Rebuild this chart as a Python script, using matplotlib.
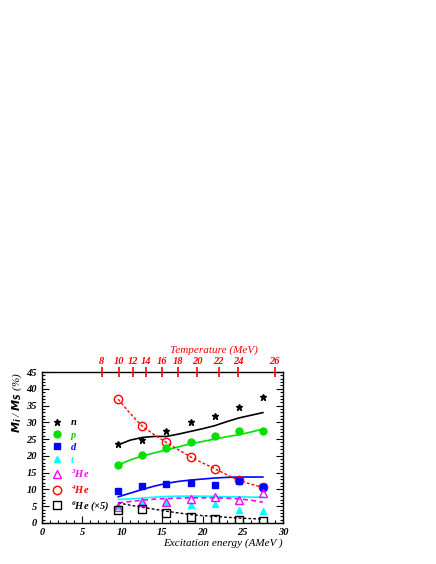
#this file draws the fragment multiplicity fractions vs excitation energy
import matplotlib.pyplot as plt
from matplotlib.lines import Line2D
from matplotlib.ticker import MultipleLocator

plt.rcParams['font.family'] = ['Liberation Serif', 'DejaVu Serif']
plt.rcParams['font.style'] = 'italic'
plt.rcParams['font.weight'] = 'bold'
plt.rcParams['mathtext.default'] = 'regular'

# data points (excitation energy, AMeV)
e_pts = [9.5, 12.5, 15.5, 18.5, 21.5, 24.5, 27.5]
n_pts = [23.6, 24.8, 27.4, 30.2, 32.0, 34.7, 37.7]
p_pts = [17.3, 20.3, 22.4, 24.2, 25.9, 27.5, 27.5]
d_pts = [9.6, 10.9, 11.6, 11.8, 11.3, 12.5, 10.7]
t_pts = [5.1, 6.6, 6.3, 5.5, 5.6, 4.0, 3.5]
he3_pts = [4.8, 6.3, 6.3, 7.2, 7.6, 7.0, 8.8]
he4_pts = [36.9, 28.8, 24.0, 19.7, 16.2, 12.7, 10.6]
he6_pts = [4.0, 4.2, 3.0, 1.7, 1.3, 0.8, 0.6]

# model curves
e_mod = [9.5, 11.0, 12.5, 14.0, 15.5, 17.0, 18.5, 20.0, 21.5, 23.0, 24.5, 26.0, 27.5]
n_mod = [23.3, 24.7, 25.5, 25.8, 25.8, 26.5, 27.3, 28.1, 29.0, 30.2, 31.3, 32.1, 32.9]
p_mod = [17.3, 18.8, 20.0, 20.9, 21.8, 22.7, 23.6, 24.3, 25.0, 25.7, 26.3, 27.1, 28.0]
d_mod = [7.8, 8.9, 10.0, 11.0, 11.8, 12.4, 12.8, 13.1, 13.4, 13.6, 13.7, 13.7, 13.7]
t_mod = [7.0, 7.2, 7.4, 7.7, 7.9, 8.0, 8.0, 8.0, 7.9, 7.8, 7.8, 7.7, 7.7]
he3_mod = [6.0, 6.4, 6.8, 7.1, 7.3, 7.4, 7.5, 7.5, 7.5, 7.4, 7.2, 6.8, 6.2]
he4_mod = [36.9, 32.6, 28.8, 26.3, 24.0, 21.8, 19.7, 17.9, 16.2, 14.4, 12.7, 11.6, 10.6]
he6_mod = [6.0, 5.3, 4.7, 4.1, 3.5, 3.0, 2.5, 2.2, 2.0, 1.7, 1.5, 1.3, 1.2]

# temperature scale on top (positions in excitation energy)
temp_pos = [7.43, 9.58, 11.33, 12.9, 14.98, 16.9, 19.3, 22.0, 24.4, 28.97]
temp_lab = ['8', '10', '12', '14', '16', '18', '20', '22', '24', '26']

green = '#00e000'
fig = plt.figure(figsize=(4.36, 5.64), dpi=100)
ax = fig.add_axes([0.096, 0.0727, 0.553, 0.2677])

ax.plot(e_mod, n_mod, color='black', lw=1.2)
ax.plot(e_mod, p_mod, color=green, lw=1.2)
ax.plot(e_mod, d_mod, color='blue', lw=1.2)
ax.plot(e_mod, t_mod, color='cyan', lw=1.2)
ax.plot(e_mod, he3_mod, color='magenta', lw=1.2, ls=(0, (3, 2)))
ax.plot(e_mod, he4_mod, color='red', lw=1.0, ls=(0, (2, 1.5)))
ax.plot(e_mod, he6_mod, color='black', lw=1.0, ls=(0, (2, 1.5)))

ms = 5
ax.plot(e_pts, he4_pts, 'o', ms=ms + 1, mfc='none', mec='red', mew=1.0)
ax.plot(e_pts, n_pts, '*', ms=ms, color='black')
ax.plot(e_pts, p_pts, 'o', ms=ms, color=green)
ax.plot(e_pts, d_pts, 's', ms=ms - 0.5, color='blue')
ax.plot(e_pts, t_pts, '^', ms=ms - 0.5, color='cyan')
ax.plot(e_pts, he3_pts, '^', ms=ms + 0.5, mfc='none', mec='magenta', mew=1.0)
ax.plot(e_pts, he6_pts, 's', ms=ms + 0.5, mfc='none', mec='black', mew=1.0)

ax.set_xlim(0, 30)
ax.set_ylim(0, 45)
ax.xaxis.set_major_locator(MultipleLocator(5))
ax.xaxis.set_minor_locator(MultipleLocator(1))
ax.yaxis.set_major_locator(MultipleLocator(5))
ax.yaxis.set_minor_locator(MultipleLocator(1))
ax.tick_params(which='both', direction='in', top=True, right=True, labelsize=7.5, width=0.8)
ax.tick_params(which='major', length=5)
ax.tick_params(which='minor', length=2.5)
for sp in ax.spines.values():
    sp.set_linewidth(1.0)
ax.set_xlabel('Excitation energy (AMeV )', fontsize=8, loc='right', labelpad=1)
ax.set_ylabel('$\\mathit{M_i}$ / $\\mathit{M_S}$ (%)', fontsize=8, loc='top',
              labelpad=2, fontweight='normal')

handles = [
    Line2D([], [], ls='', marker='*', ms=ms, color='black'),
    Line2D([], [], ls='', marker='o', ms=ms, color=green),
    Line2D([], [], ls='', marker='s', ms=ms - 0.5, color='blue'),
    Line2D([], [], ls='', marker='^', ms=ms - 0.5, color='cyan'),
    Line2D([], [], ls='', marker='^', ms=ms + 0.5, mfc='none', mec='magenta', mew=1.0),
    Line2D([], [], ls='', marker='o', ms=ms + 1, mfc='none', mec='red', mew=1.0),
    Line2D([], [], ls='', marker='s', ms=ms + 0.5, mfc='none', mec='black', mew=1.0),
]
labels = ['n', 'p', 'd', 't', '$^{3}$He', '$^{4}$He', '$^{6}$He (×5)']
leg = ax.legend(handles, labels, loc='upper left', bbox_to_anchor=(0.02, 0.73),
                frameon=False, fontsize=7.5, handlelength=1.0, handletextpad=0.8,
                labelspacing=0.3, borderpad=0,
                labelcolor=['black', green, 'blue', 'cyan', 'magenta', 'red', 'black'])

top = ax.twiny()
top.set_xlim(ax.get_xlim())
top.set_xticks(temp_pos)
top.set_xticklabels(temp_lab)
top.xaxis.set_minor_locator(plt.NullLocator())
top.tick_params(axis='x', direction='inout', length=7, width=1.2, color='red',
                labelcolor='red', labelsize=7.5, pad=1)
for sp in top.spines.values():
    sp.set_visible(False)
top.set_xlabel('Temperature (MeV)', color='red', fontsize=8, labelpad=2)
top.xaxis.set_label_coords(0.714, 1.13)

fig.savefig('out.png', dpi=100)
